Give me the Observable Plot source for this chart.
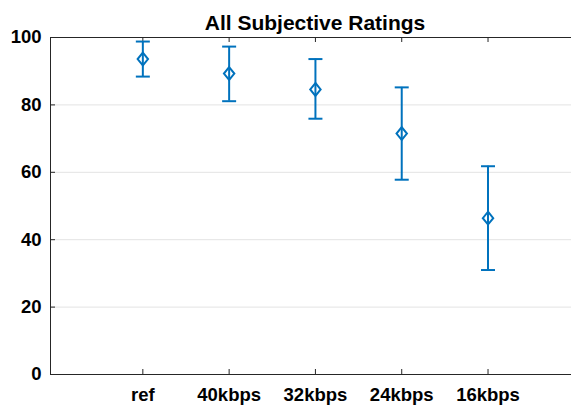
<!DOCTYPE html>
<html>
<head>
<meta charset="utf-8">
<script src="https://cdn.jsdelivr.net/npm/d3@7"></script>
<script src="https://cdn.jsdelivr.net/npm/@observablehq/plot@0.6"></script>
<style>
  html, body { margin: 0; padding: 0; background: #fff; overflow: hidden; }
</style>
</head>
<body>
<div id="chart"></div>
<script>
const title = "All Subjective Ratings";
const categories = ["ref", "40kbps", "32kbps", "24kbps", "16kbps"];
const positions = [1, 2, 3, 4, 5];
const means = [93.6, 89.3, 84.6, 71.5, 46.4];
const lower = [88.4, 81.1, 75.9, 57.8, 31.0];
const upper = [98.8, 97.3, 93.6, 85.2, 61.8];
const yTicks = [0, 20, 40, 60, 80, 100];
const gridTicks = [20, 40, 60, 80];

const data = categories.map((c, i) => ({cat: c, pos: positions[i], mean: means[i], lo: lower[i], hi: upper[i]}));

const blue = "#0072BD";
const axisColor = "#262626";
const font = "'Liberation Sans', Arial, Helvetica, sans-serif";

const W = 571, H = 405;
const mL = 50, mR = -8, mT = 37, mB = 31;
const frameW = W - mL - mR, frameH = H - mT - mB;
const tickLen = 5;

const diamond = {
  draw(ctx) {
    const hw = 5.2, hh = 6.4;
    ctx.moveTo(0, -hh);
    ctx.lineTo(hw, 0);
    ctx.lineTo(0, hh);
    ctx.lineTo(-hw, 0);
    ctx.closePath();
  }
};
const cap = {
  draw(ctx) {
    ctx.moveTo(-7, 0);
    ctx.lineTo(7, 0);
  }
};

const chart = Plot.plot({
  width: W,
  height: H,
  marginLeft: mL,
  marginRight: mR,
  marginTop: mT,
  marginBottom: mB,
  style: {fontFamily: font, background: "#fff", overflow: "hidden"},
  x: {type: "linear", domain: [-0.07, 6.06]},
  y: {domain: [0, 100]},
  marks: [
    Plot.gridY(gridTicks, {stroke: "#e3e3e3", strokeOpacity: 1, strokeWidth: 1}),
    Plot.frame({stroke: axisColor, strokeWidth: 1}),
    // inward ticks
    Plot.tickX(positions, {x: d => d, insetTop: frameH - tickLen, stroke: axisColor}),
    Plot.tickX(positions, {x: d => d, insetBottom: frameH - tickLen, stroke: axisColor}),
    Plot.tickY(yTicks, {y: d => d, insetRight: frameW - tickLen, stroke: axisColor}),
    Plot.axisX(positions, {
      label: null,
      tickSize: 0, tickPadding: 13,
      tickFormat: (d, i) => categories[i],
      fontSize: 18.5, fontWeight: "bold", fill: "#000"
    }),
    Plot.axisY(yTicks, {
      label: null,
      tickSize: 0, tickPadding: 9,
      fontSize: 18.5, fontWeight: "bold", fill: "#000"
    }),
    // error bars
    Plot.ruleX(data, {x: "pos", y1: "lo", y2: "hi", stroke: blue, strokeWidth: 2}),
    Plot.dot(data, {x: "pos", y: "hi", symbol: cap, stroke: blue, strokeWidth: 2, fill: "none"}),
    Plot.dot(data, {x: "pos", y: "lo", symbol: cap, stroke: blue, strokeWidth: 2, fill: "none"}),
    Plot.dot(data, {x: "pos", y: "mean", symbol: diamond, stroke: blue, strokeWidth: 2, fill: "none"}),
    // title
    Plot.text([title], {
      frameAnchor: "top", dy: -8, lineAnchor: "bottom",
      fontSize: 21, fontWeight: "bold", fill: "#000"
    })
  ]
});

document.getElementById("chart").appendChild(chart);
</script>
</body>
</html>
